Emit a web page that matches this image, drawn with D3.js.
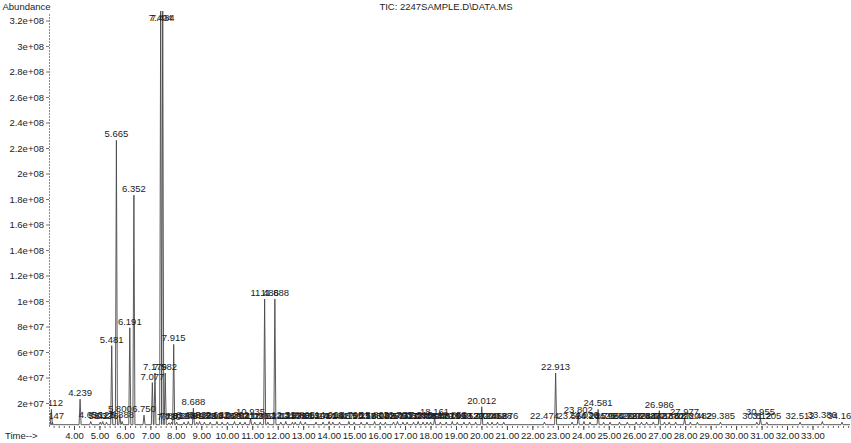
<!DOCTYPE html>
<html><head><meta charset="utf-8">
<script src="https://cdn.jsdelivr.net/npm/d3@7"></script>
<style>
body{margin:0;background:#fff;}
svg{display:block;}
text{font-family:"Liberation Sans",Arial,sans-serif;fill:#1c1c1c;}
</style>
</head><body>
<svg id="c" width="851" height="443"></svg>
<script>
const chartTitle = "TIC: 2247SAMPLE.D\\DATA.MS";
const yAxisTitle = "Abundance";
const xAxisTitle = "Time-->";

const yTickValues = [2e7,4e7,6e7,8e7,1e8,1.2e8,1.4e8,1.6e8,1.8e8,2e8,2.2e8,2.4e8,2.6e8,2.8e8,3e8,3.2e8];
const yTickLabels = ["2e+07","4e+07","6e+07","8e+07","1e+08","1.2e+08","1.4e+08","1.6e+08","1.8e+08","2e+08","2.2e+08","2.4e+08","2.6e+08","2.8e+08","3e+08","3.2e+08"];

const xTickValues = [4,5,6,7,8,9,10,11,12,13,14,15,16,17,18,19,20,21,22,23,24,25,26,27,28,29,30,31,32,33];
const xTickLabels = ["4.00","5.00","6.00","7.00","8.00","9.00","10.00","11.00","12.00","13.00","14.00","15.00","16.00","17.00","18.00","19.00","20.00","21.00","22.00","23.00","24.00","25.00","26.00","27.00","28.00","29.00","30.00","31.00","32.00","33.00"];

// retention times (min)
const peakTimes = [3.112,3.147,4.239,4.656,5.032,5.127,5.276,5.481,5.665,5.800,5.888,6.191,6.352,6.750,7.077,7.179,7.404,7.484,7.582,7.730,7.831,7.915,8.031,8.318,8.488,8.688,8.818,8.932,9.122,9.350,9.612,9.818,10.029,10.302,10.521,10.712,10.935,11.096,11.312,11.486,11.612,11.888,12.121,12.318,12.576,12.688,12.895,13.082,13.504,13.781,14.016,14.164,14.427,14.795,15.003,15.277,15.503,15.803,16.033,16.227,16.545,16.703,16.917,17.082,17.334,17.515,17.706,17.864,18.004,18.161,18.387,18.615,18.853,19.053,19.312,19.530,19.772,20.012,20.246,20.418,20.628,20.876,22.474,22.913,23.560,23.802,24.026,24.264,24.581,24.798,25.050,25.420,25.727,26.078,26.284,26.486,26.748,26.986,27.188,27.370,27.627,27.977,28.204,28.482,29.385,30.812,30.955,31.205,32.512,33.386,34.160];
// apex abundance
const peakHeights = [15e6,5e6,23e6,5.5e6,5e6,5.5e6,5e6,65e6,226e6,10.5e6,5.5e6,79e6,183e6,10.5e6,36e6,43.5e6,345e6,340e6,43.5e6,4.5e6,5e6,66e6,5e6,5e6,5.5e6,16e6,5e6,5.5e6,5e6,5e6,5.5e6,5e6,5e6,5.5e6,5e6,5e6,8e6,5e6,5e6,101.5e6,5e6,101.5e6,5e6,5.5e6,5e6,5e6,5.5e6,5e6,5e6,5e6,5.5e6,5e6,5e6,5.5e6,5e6,5e6,5e6,5.5e6,5e6,5e6,5e6,5.5e6,5e6,5e6,5e6,5.5e6,5e6,5e6,5e6,8e6,5e6,5e6,5.5e6,5e6,5e6,5e6,5e6,17e6,5e6,5e6,5e6,5e6,5e6,43.5e6,5e6,10e6,5.5e6,5e6,15e6,5e6,5e6,5e6,5e6,5e6,5e6,5e6,5e6,14e6,5e6,5e6,5e6,8e6,5e6,5e6,5e6,5e6,8e6,5e6,5e6,5.5e6,5e6];
const baselineLevel = 3e6;

const svg = d3.select("#c");
const W = 851, H = 443;
const plotLeft = 49, plotRight = 850, plotTop = 11;

const x = d3.scaleLinear().domain([4, 33]).range([74, 812.5]);
const y = d3.scaleLinear().domain([0, 3.2e8]).range([428.5, 20.5]);
const tMin = x.invert(plotLeft), tMax = x.invert(plotRight);

svg.append("defs").append("clipPath").attr("id","plotclip")
  .append("rect").attr("x", plotLeft + 0.5).attr("y", plotTop).attr("width", W - plotLeft).attr("height", H - plotTop);

// titles
svg.append("text").attr("x", 446).attr("y", 10).attr("text-anchor","middle")
  .attr("font-size", 9.5).text(chartTitle);
svg.append("text").attr("x", 2.5).attr("y", 10).attr("font-size", 9.5).text(yAxisTitle);
svg.append("text").attr("x", 5).attr("y", 439).attr("font-size", 9.5).text(xAxisTitle);

// y axis
const yAxis = d3.axisLeft(y).tickValues(yTickValues)
  .tickFormat((d,i) => yTickLabels[i]).tickSize(3).tickPadding(2);
const gy = svg.append("g").attr("transform", `translate(${plotLeft},0)`).call(yAxis);
gy.select(".domain").remove();
gy.selectAll(".tick line").attr("stroke","#777");
gy.selectAll("text").attr("font-size", 9.5).attr("fill","#1c1c1c").attr("font-family","Liberation Sans, Arial, sans-serif");
svg.append("line").attr("x1", plotLeft + 0.5).attr("x2", plotLeft + 0.5).attr("y1", 14).attr("y2", 428)
  .attr("stroke","#8a8a8a").attr("stroke-width",1).attr("stroke-dasharray","2,1");

// x axis: minor ticks
const minorTicks = d3.range(Math.ceil(tMin*5), Math.floor(tMax*5)+1).map(v => v/5);
const gxm = svg.append("g").attr("transform","translate(0,426)")
  .call(d3.axisBottom(x).tickValues(minorTicks).tickFormat("").tickSize(2).tickSizeOuter(0));
gxm.select(".domain").remove();
gxm.selectAll(".tick line").attr("stroke","#666");
const gx = svg.append("g").attr("transform","translate(0,426)")
  .call(d3.axisBottom(x).tickValues(xTickValues).tickFormat((d,i) => xTickLabels[i]).tickSize(4).tickPadding(2).tickSizeOuter(0));
gx.select(".domain").remove();
gx.selectAll(".tick line").attr("stroke","#444");
gx.selectAll("text").attr("font-size", 9.5).attr("fill","#1c1c1c").attr("font-family","Liberation Sans, Arial, sans-serif");

// trace
const hw = 0.04;
const peaks = peakTimes.map((t,i) => ({t, h: peakHeights[i], label: d3.format(".3f")(t)}));
const pts = [[tMin, baselineLevel]];
peaks.forEach(p => { pts.push([p.t - hw, baselineLevel], [p.t, p.h], [p.t + hw, baselineLevel]); });
pts.push([tMax, baselineLevel]);

const plot = svg.append("g").attr("clip-path","url(#plotclip)");
plot.append("path").datum(pts)
  .attr("d", d3.line().x(d => x(d[0])).y(d => y(d[1])))
  .attr("fill","none").attr("stroke","#484848").attr("stroke-width",0.9).attr("stroke-linejoin","miter");

plot.selectAll("text.pk").data(peaks).join("text").attr("class","pk")
  .attr("x", d => x(d.t)).attr("y", d => Math.max(y(d.h) - 3, 21))
  .attr("text-anchor","middle").attr("font-size", 9.5).text(d => d.label);
</script>
</body></html>
